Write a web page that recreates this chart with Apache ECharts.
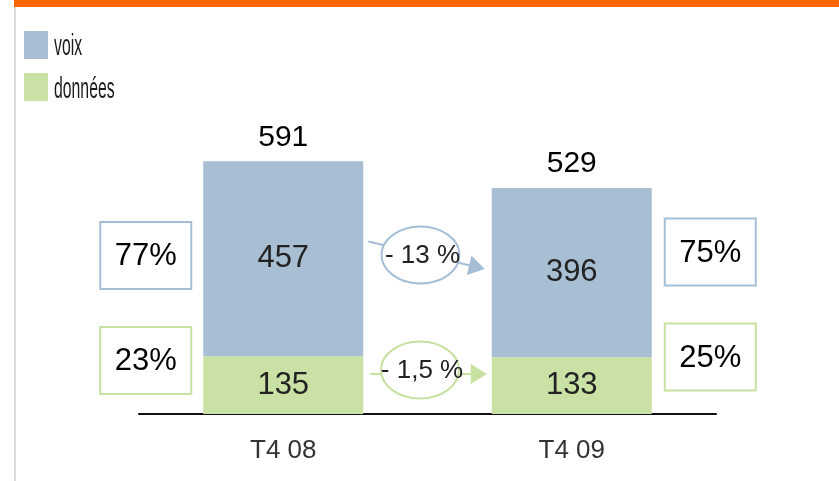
<!DOCTYPE html>
<html>
<head>
<meta charset="utf-8">
<style>
  html, body { margin: 0; padding: 0; background: #fff; }
  #chart { width: 839px; height: 481px; }
</style>
<script src="https://cdn.jsdelivr.net/npm/echarts@6/dist/echarts.min.js"></script>
</head>
<body>
<div id="chart"></div>
<script>
// Trafic par trimestre : voix / données (stacked), totals, shares and change
const categories = ['T4 08', 'T4 09'];
const seriesNames = ['voix', 'données'];
const voix = [457, 396];
const donnees = [135, 133];
const totals = [591, 529];
const voixShare = ['77%', '75%'];
const donneesShare = ['23%', '25%'];
const changes = ['- 13 %', '- 1,5 %'];

const FONT = "'Liberation Sans', Arial, Helvetica, sans-serif";
const BLUE = '#a7bed3';
const GREEN = '#c9e1a4';
const BLUE_LINE = '#a6bed5';
const GREEN_LINE = '#c6e1a0';

const chart = echarts.init(document.getElementById('chart'), null, { renderer: 'canvas' });

const option = {
  animation: false,
  backgroundColor: '#fff',
  grid: { left: 139, right: 123, top: 115, bottom: 67 },
  xAxis: {
    type: 'category',
    data: categories,
    axisLine: { lineStyle: { color: '#111', width: 2 } },
    axisTick: { show: false },
    axisLabel: { fontFamily: FONT, fontSize: 26, color: '#333', margin: 24 }
  },
  yAxis: { type: 'value', min: 0, max: 700, show: false, splitLine: { show: false } },
  series: [
    {
      name: seriesNames[1],
      type: 'bar',
      stack: 'trafic',
      barWidth: 160,
      data: donnees,
      itemStyle: { color: GREEN },
      label: { show: true, position: 'inside', fontFamily: FONT, fontSize: 31, color: '#222' }
    },
    {
      name: seriesNames[0],
      type: 'bar',
      stack: 'trafic',
      barWidth: 160,
      data: voix,
      itemStyle: { color: BLUE },
      label: { show: true, position: 'inside', fontFamily: FONT, fontSize: 31, color: '#222' }
    },
    {
      // totals printed above each stack
      name: 'total',
      type: 'scatter',
      data: totals,
      symbolSize: 0,
      itemStyle: { color: BLUE, opacity: 1 },
      label: { show: true, position: 'top', distance: 9, fontFamily: FONT, fontSize: 30, color: '#000', opacity: 1 }
    }
  ]
};

chart.setOption(option);

// Annotation layer anchored on the axis positions of both quarters
const a = chart.convertToPixel({ gridIndex: 0 }, [0, 0]);
const b = chart.convertToPixel({ gridIndex: 0 }, [1, 0]);
const y0 = a[1];
const halfBar = 80;

// Legend: colour swatch + condensed label
function legendItem(y, color, text, textY) {
  return [
    { type: 'rect', shape: { x: 24, y: y, width: 24, height: 28 }, style: { fill: color }, silent: true },
    { type: 'text', x: 54, y: textY, scaleX: 0.545,
      style: { text: text, fontFamily: FONT, fontSize: 29, fill: '#1a1a1a', align: 'left', verticalAlign: 'middle' },
      silent: true }
  ];
}

function shareBox(cx, cy, text, stroke) {
  return [
    { type: 'rect', shape: { x: cx - 45.5, y: cy - 33.5, width: 91, height: 67 },
      style: { fill: '#fff', stroke: stroke, lineWidth: 2 }, silent: true },
    { type: 'text', x: cx, y: cy + 1,
      style: { text: text, fontFamily: FONT, fontSize: 31, fill: '#000', align: 'center', verticalAlign: 'middle' },
      silent: true }
  ];
}

function changeArrow(x1, y1, x2, y2, ecx, ecy, text, stroke) {
  const ang = Math.atan2(y2 - y1, x2 - x1);
  const len = 16, hw = 10;
  const bx = x2 - len * Math.cos(ang), by = y2 - len * Math.sin(ang);
  const px = -Math.sin(ang) * hw, py = Math.cos(ang) * hw;
  const lx = x2 - (len - 1) * Math.cos(ang), ly = y2 - (len - 1) * Math.sin(ang);
  return [
    { type: 'line', shape: { x1: x1, y1: y1, x2: lx, y2: ly },
      style: { stroke: stroke, lineWidth: 2 }, silent: true },
    { type: 'polygon', shape: { points: [[x2, y2], [bx + px, by + py], [bx - px, by - py]] },
      style: { fill: stroke }, silent: true },
    { type: 'ellipse', shape: { cx: ecx, cy: ecy, rx: 39, ry: 28.5 },
      style: { fill: '#fff', stroke: stroke, lineWidth: 2 }, silent: true },
    { type: 'text', x: ecx + 2, y: ecy + 1,
      style: { text: text, fontFamily: FONT, fontSize: 26, fill: '#222', align: 'center', verticalAlign: 'middle' },
      silent: true }
  ];
}

const mid = (a[0] + b[0]) / 2;
const graphics = [
  { type: 'rect', shape: { x: 14, y: 0, width: 825, height: 7 }, style: { fill: '#ff6600' }, silent: true },
  { type: 'line', shape: { x1: 15, y1: 7, x2: 15, y2: 481 }, style: { stroke: '#dcdcdc', lineWidth: 2 }, silent: true }
]
  .concat(legendItem(31, BLUE, seriesNames[0], 47))
  .concat(legendItem(73, GREEN, seriesNames[1], 90))
  .concat(shareBox(a[0] - 137.5, y0 - 158.5, voixShare[0], BLUE_LINE))
  .concat(shareBox(a[0] - 137.5, y0 - 53.5, donneesShare[0], GREEN_LINE))
  .concat(shareBox(b[0] + 138.5, y0 - 162, voixShare[1], BLUE_LINE))
  .concat(shareBox(b[0] + 138.5, y0 - 57, donneesShare[1], GREEN_LINE))
  .concat(changeArrow(a[0] + halfBar + 5, y0 - 172.5, b[0] - halfBar - 7, y0 - 145, mid - 7, y0 - 159, changes[0], BLUE_LINE))
  .concat(changeArrow(a[0] + halfBar + 7, y0 - 40, b[0] - halfBar - 5, y0 - 40, mid - 7.5, y0 - 44, changes[1], GREEN_LINE));

chart.setOption({ graphic: { elements: graphics } });
</script>
</body>
</html>
